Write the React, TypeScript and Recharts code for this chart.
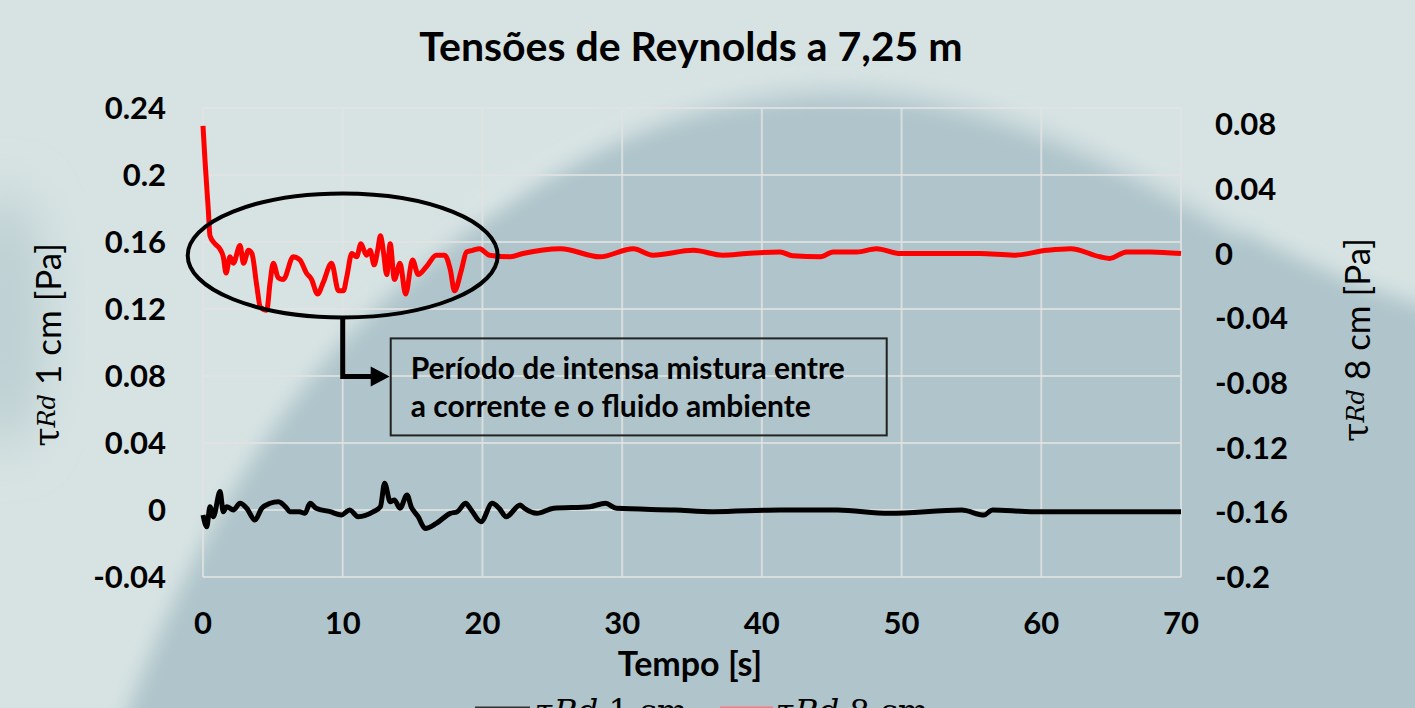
import { LineChart, Line, XAxis, YAxis, CartesianGrid, ReferenceDot } from 'recharts';

// τRd a 1 cm (eixo esquerdo)
const tempo1cm = [
  0, 0.27, 0.5, 0.74, 1.22, 1.45, 1.7, 2.17, 2.65, 3.13, 3.72, 4.2, 4.8, 5.4, 6.0, 6.2, 6.9, 7.3, 7.66, 8.1,
  9.1, 9.9, 10.5, 11.1, 12.2, 12.7, 13.0, 13.4, 13.7, 14.1, 14.6, 14.9, 15.4, 15.9, 16.7, 17.7, 18.2, 18.8,
  19.2, 19.9, 20.7, 21.2, 21.7, 22.7, 23.0, 23.9, 25.1, 27.7, 28.8, 29.6, 33.8, 36.5, 41.3, 45.4, 49.1, 54.3,
  55.9, 56.5, 59.3, 63.4, 70
];
const tau1cm = [
  -0.003, -0.01, 0.002, -0.004, 0.011, -0.001, 0.002, 0, 0.004, 0.001, -0.006, 0.001, 0.004, 0.005, 0.001,
  -0.001, -0.001, -0.002, 0.004, 0.001, -0.001, -0.003, 0, -0.004, -0.001, 0.002, 0.016, 0.005, 0.006, 0.001,
  0.009, 0.002, -0.004, -0.011, -0.008, -0.002, -0.001, 0.004, 0, -0.007, 0.004, 0.001, -0.004, 0.003, 0.001,
  -0.002, 0.001, 0.002, 0.004, 0.001, 0, -0.001, 0, 0, -0.002, 0, -0.003, 0, -0.001, -0.001, -0.001
];

// τRd a 8 cm (eixo direito)
const tempo8cm = [
  0, 0.14, 0.38, 0.5, 0.86, 1.2, 1.45, 1.65, 1.93, 2.17, 2.65, 2.9, 3.25, 3.5, 3.85, 4.1, 4.56, 4.8, 5.03,
  5.39, 5.75, 6.46, 6.94, 7.4, 7.77, 8.2, 8.6, 9.2, 9.7, 10.05, 10.3, 10.65, 11.0, 11.3, 11.7, 11.96, 12.25,
  12.5, 12.7, 12.9, 13.15, 13.4, 13.7, 14.1, 14.5, 15.0, 15.4, 16.0, 16.7, 17.3, 17.7, 18.0, 18.5, 18.86,
  19.3, 19.8, 20.5, 22.0, 22.9, 25.6, 28.4, 30.8, 32.2, 35.1, 37.2, 38.9, 41.3, 42.2, 44.2, 45.1, 46.8, 48.2,
  49.9, 53.3, 55.6, 58.0, 60.4, 62.1, 64.2, 64.9, 66.1, 67.8, 70
];
const tau8cm = [
  0.079, 0.058, 0.027, 0.011, 0.006, 0.003, -0.002, -0.012, -0.002, -0.006, 0.005, -0.006, 0.002, 0, -0.02,
  -0.033, -0.035, -0.018, -0.006, -0.015, -0.016, -0.002, -0.004, -0.012, -0.016, -0.025, -0.018, -0.006,
  -0.023, -0.023, -0.014, 0, -0.002, 0.006, -0.001, 0.002, -0.007, 0.002, 0.011, 0.002, -0.013, 0.006, -0.016,
  -0.006, -0.025, -0.004, -0.013, -0.008, -0.001, -0.001, -0.01, -0.023, -0.01, 0.001, 0.002, 0.003, -0.001,
  -0.002, 0, 0.003, -0.002, 0.003, -0.001, 0.002, -0.001, 0, 0.001, -0.0014, -0.002, 0.001, 0.001, 0.003, 0,
  0, 0, -0.001, 0.002, 0.003, -0.002, -0.003, 0.001, 0.001, 0
];

const xTicks = [0, 10, 20, 30, 40, 50, 60, 70];
const leftTicks = [-0.04, 0, 0.04, 0.08, 0.12, 0.16, 0.2, 0.24];
const rightTicks = [-0.2, -0.16, -0.12, -0.08, -0.04, 0, 0.04, 0.08];

const annotText = ['Período de intensa mistura entre', 'a corrente e o fluido ambiente'];
const annotT = 10;
const annotTau = 0.152;

const serie1 = tempo1cm.map((t, i) => ({ t, v: tau1cm[i] }));
const serie8 = tempo8cm.map((t, i) => ({ t, v: tau8cm[i] }));

const fmt = (v: number) => String(Number(v.toFixed(2)));
const font = 'Lato, "Open Sans", sans-serif';
const mathFont = '"DejaVu Serif", "Liberation Serif", serif';
const tickStyle = { fill: '#000', fontSize: 31, fontWeight: 700, fontFamily: font };

function Annotation(props: any) {
  const { cx, cy } = props;
  const bx = cx + 48;
  const by = cy + 83;
  return (
    <g>
      <ellipse cx={cx} cy={cy} rx={155} ry={62} fill="none" stroke="#000" strokeWidth={4} />
      <polyline
        points={`${cx},${cy + 62} ${cx},${cy + 121} ${cx + 30},${cy + 121}`}
        fill="none"
        stroke="#000"
        strokeWidth={5}
      />
      <polygon points={`${cx + 28},${cy + 111} ${cx + 47},${cy + 121} ${cx + 28},${cy + 131}`} fill="#000" />
      <rect x={bx} y={by} width={496} height={97} fill="none" stroke="#222" strokeWidth={2} />
      {annotText.map((s, i) => (
        <text key={i} x={bx + 20} y={by + 41 + i * 38} fontSize={30} fontWeight={700} fontFamily={font} fill="#000">
          {s}
        </text>
      ))}
    </g>
  );
}

function TauLabel({ x, y, text }: { x: number; y: number; text: string }) {
  return (
    <text
      x={x}
      y={y}
      transform={`rotate(-90 ${x} ${y})`}
      textAnchor="middle"
      dominantBaseline="central"
      fontSize={35}
      fontFamily={font}
      fill="#000"
    >
      <tspan fontFamily={mathFont}>τ</tspan>
      <tspan fontFamily={mathFont} fontStyle="italic" fontSize={24}>Rd</tspan>
      <tspan>{text}</tspan>
    </text>
  );
}

export default function App() {
  return (
    <div style={{ position: 'absolute', left: 0, top: 0, width: 1415, height: 708, overflow: 'hidden' }}>
      <svg width={1415} height={708} style={{ position: 'absolute', left: 0, top: 0 }}>
        <defs>
          <filter id="bgBlur" x="-20%" y="-20%" width="140%" height="140%">
            <feGaussianBlur stdDeviation="10" />
          </filter>
          <filter id="bgBlur2" x="-50%" y="-50%" width="200%" height="200%">
            <feGaussianBlur stdDeviation="25" />
          </filter>
        </defs>
        <rect width={1415} height={708} fill="#d7e3e3" />
        <path
          d="M 110 760 C 180 560, 280 380, 420 270 C 540 170, 660 95, 820 88 C 980 82, 1120 160, 1240 230 C 1320 270, 1380 295, 1440 310 L 1440 760 Z"
          fill="#afc5cb"
          filter="url(#bgBlur)"
        />
        <ellipse cx={5} cy={320} rx={40} ry={130} fill="#bccfd2" filter="url(#bgBlur2)" />
        <path
          d="M 470 215 C 580 140, 680 98, 820 92 C 980 88, 1120 160, 1240 232"
          fill="none"
          stroke="#e4ecec"
          strokeWidth={12}
          strokeOpacity={0.5}
          filter="url(#bgBlur)"
        />
      </svg>

      <div style={{ position: 'absolute', left: 0, top: 0 }}>
        <LineChart width={1415} height={708} data={serie1} margin={{ top: 108, right: 84, bottom: 71, left: 83 }}>
          <CartesianGrid
            yAxisId="left"
            stroke="#e2e2e2"
            strokeOpacity={0.8}
            strokeWidth={2}
            horizontalValues={leftTicks}
            verticalValues={xTicks}
          />
          <XAxis
            dataKey="t"
            type="number"
            domain={[0, 70]}
            ticks={xTicks}
            axisLine={false}
            tickLine={false}
            tickSize={0}
            tickMargin={35}
            height={60}
            tick={tickStyle}
          />
          <YAxis
            yAxisId="left"
            type="number"
            domain={[-0.04, 0.24]}
            ticks={leftTicks}
            tickFormatter={fmt}
            axisLine={false}
            tickLine={false}
            tickSize={0}
            tickMargin={37}
            width={120}
            tick={tickStyle}
          />
          <YAxis
            yAxisId="right"
            orientation="right"
            type="number"
            domain={[-0.2, 0.09]}
            ticks={rightTicks}
            tickFormatter={fmt}
            axisLine={false}
            tickLine={false}
            tickSize={0}
            tickMargin={34}
            width={150}
            tick={{ ...tickStyle, textAnchor: 'start' }}
          />
          <Line
            yAxisId="left"
            data={serie1}
            dataKey="v"
            type="monotone"
            stroke="#000"
            strokeWidth={5}
            dot={false}
            isAnimationActive={false}
          />
          <Line
            yAxisId="right"
            data={serie8}
            dataKey="v"
            type="monotone"
            stroke="#ff0000"
            strokeWidth={5}
            dot={false}
            isAnimationActive={false}
          />
          <ReferenceDot yAxisId="left" x={annotT} y={annotTau} r={0} shape={Annotation} />
        </LineChart>
      </div>

      <svg width={1415} height={708} style={{ position: 'absolute', left: 0, top: 0, pointerEvents: 'none' }}>
        <text x={691} y={61} textAnchor="middle" fontSize={41} fontWeight={700} fontFamily={font} fill="#000">
          Tensões de Reynolds a 7,25 m
        </text>
        <text x={690} y={676} textAnchor="middle" fontSize={34} fontWeight={700} fontFamily={font} fill="#000">
          Tempo [s]
        </text>
        <TauLabel x={47} y={345} text=" 1 cm [Pa]" />
        <TauLabel x={1356} y={340} text=" 8 cm [Pa]" />
        <line x1={475} y1={708} x2={530} y2={708} stroke="#333" strokeWidth={3} />
        <text x={536} y={722} fontSize={32} fontFamily={mathFont} fill="#000">
          τ<tspan fontStyle="italic">Rd</tspan> 1 cm
        </text>
        <line x1={720} y1={708} x2={773} y2={708} stroke="#f08080" strokeWidth={3} />
        <text x={777} y={722} fontSize={32} fontFamily={mathFont} fill="#000">
          τ<tspan fontStyle="italic">Rd</tspan> 8 cm
        </text>
      </svg>
    </div>
  );
}
